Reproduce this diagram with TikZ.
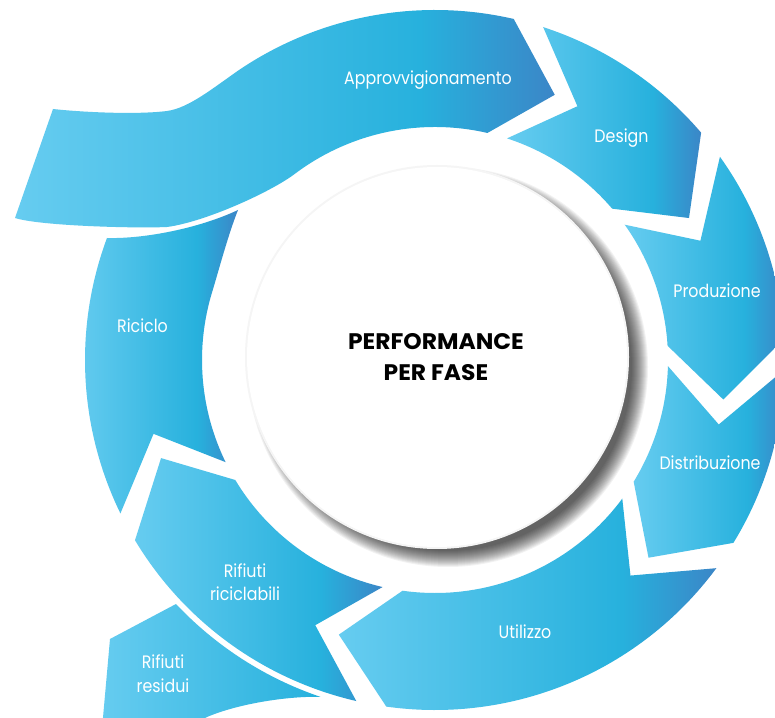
\documentclass[tikz,border=0pt]{standalone}
\usepackage{fontspec}
\newfontfamily\labelfont{Poppins}[FakeStretch=0.88]
\newfontfamily\titlefont{Poppins}[FakeStretch=1.04]
\definecolor{cL}{HTML}{66CCF0}
\definecolor{cM}{HTML}{27B1DD}
\definecolor{cD}{HTML}{3B86C7}
\pgfdeclarehorizontalshading{segshade}{100bp}{color(0bp)=(cL); color(25bp)=(cL); color(62.5bp)=(cM); color(75bp)=(cD); color(100bp)=(cD)}
\pgfdeclarehorizontalshading{segshadeB}{100bp}{color(0bp)=(cL); color(25bp)=(cL); color(75bp)=(cM); color(100bp)=(cM)}
% ring segment from start boundary #1 (deg) clockwise to end boundary #2 (deg)
\newcommand\ringseg[2]{%
  \shade[seg] (#1-2.5:350) arc[start angle=#1-2.5, end angle=#2+2.5, radius=350]
    -- (#2+2.5-11.3:291) -- (#2+2.5:233)
    arc[start angle=#2+2.5, end angle=#1-2.5, radius=233]
    -- (#1-2.5-11.3:291) -- cycle;}
\begin{document}
\begin{tikzpicture}[x=1pt,y=1pt,
  seg/.style={shading=segshade},
  segB/.style={shading=segshadeB},
  lbl/.style={text=white,font=\labelfont\fontsize{18}{21}\selectfont,anchor=base,inner sep=0pt},
  ttl/.style={text=black,font=\titlefont\bfseries\fontsize{22.5}{26}\selectfont,anchor=base,inner sep=0pt}]
\begin{scope}[shift={(435,357)}]
\useasboundingbox (-435,-357) rectangle (340,360);
\clip (-435,-357) rectangle (340,360);
\fill[white] (-435,-357) rectangle (340,360);

% Approvvigionamento band
\shade[seg] (-382,251) .. controls (-355,248) and (-300,245) .. (-268,249)
  .. controls (-246,252) and (-222,272) .. (124:350)
  arc[start angle=124, end angle=77, radius=350]
  -- (65.7:291) -- (77:233)
  arc[start angle=77, end angle=127, radius=233]
  .. controls (-164.2,168.0) and (-230,138) .. (-268,133)
  .. controls (-298,131.5) and (-395,134) .. (-420,142) -- cycle;

% ring segments
\ringseg{74.5}{38}     % Design
\ringseg{38}{1}        % Produzione
\ringseg{1}{-34}       % Distribuzione
\ringseg{-34}{-100.5}  % Utilizzo
\ringseg{-100.5}{-151.5} % Rifiuti riciclabili

% Riciclo
\shade[seg] (-154:350) arc[start angle=-154, end angle=-200.4, radius=350]
  .. controls (-290,121) and (-235,132) .. (-197,150)
  .. controls (-207,125) and (-217,87) .. (163:233)
  arc[start angle=163, end angle=206, radius=233]
  -- (194.7:291) -- cycle;

% Rifiuti residui
\shade[segB] (-325,-279) -- (-259,-244)
  arc[start angle=-136.7, end angle=-108.8, radius=356]
  .. controls (-145,-336) and (-195,-343) .. (-228,-357)
  -- (-270,-380) -- (-334,-380) -- cycle;

% central circle with soft shadow (offset to lower right)
\foreach \k in {0,...,16}{\fill[black,opacity=0.05] (13,-7) circle ({184+\k});}
\fill[black!4] (2,3) circle (192);
\fill[white] (2,3) circle (190);

% labels
\node[lbl] (approv) at (-7,275) {Approvvigionamento};
\node[lbl] (design) at (186.5,217) {Design};
\node[lbl] (prod) at (282,62) {Produzione};
\node[lbl] (distr) at (275,-110) {Distribuzione};
\node[lbl] (util) at (90,-278) {Utilizzo};
\node[lbl] (ricic) at (-292.5,27) {Riciclo};
\node[lbl] (rr1) at (-190,-217) {Rifiuti};
\node[lbl] (rr2) at (-190,-240) {riciclabili};
\node[lbl] (rs1) at (-272,-308) {Rifiuti};
\node[lbl] (rs2) at (-272,-332) {residui};
\node[ttl] (t1) at (1,10) {PERFORMANCE};
\node[ttl] (t2) at (1,-21) {PER FASE};
\end{scope}
\end{tikzpicture}
\end{document}
